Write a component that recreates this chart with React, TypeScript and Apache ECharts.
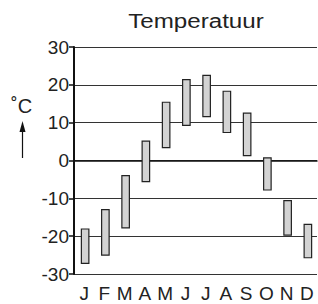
import React, { useEffect, useRef } from "react";
import * as echarts from "echarts";

const months = ["J", "F", "M", "A", "M", "J", "J", "A", "S", "O", "N", "D"];
const lows = [-27.2, -25, -17.8, -5.6, 3.4, 9.3, 11.6, 7.4, 1.3, -7.8, -19.7, -25.7];
const highs = [-18.1, -13, -4, 5.1, 15.4, 21.4, 22.5, 18.3, 12.5, 0.7, -10.6, -16.9];
const yTicks = [-30, -20, -10, 0, 10, 20, 30];

const FONT = "'Liberation Sans', Arial, Helvetica, sans-serif";

export default function App() {
  const ref = useRef<HTMLDivElement>(null);
  useEffect(() => {
    if (!ref.current) return;
    const chart = echarts.init(ref.current, null, { renderer: "svg" });
    const data = months.map((m, i) => [i, lows[i], highs[i]]);
    chart.setOption({
      animation: false,
      backgroundColor: "#ffffff",
      grid: { left: 74, right: 1, top: 47, bottom: 30, containLabel: false },
      graphic: [
        {
          type: "text",
          x: 196,
          y: 21,
          scaleX: 1.15,
          style: {
            text: "Temperatuur",
            font: `21px ${FONT}`,
            fill: "#222",
            align: "center",
            verticalAlign: "middle",
          },
        },
        {
          type: "text",
          left: 11,
          top: 96,
          style: { text: "˚C", font: `20px ${FONT}`, fill: "#222" },
        },
        {
          type: "line",
          shape: { x1: 22.5, y1: 158, x2: 22.5, y2: 128 },
          style: { stroke: "#111", lineWidth: 1.2 },
        },
        {
          type: "polygon",
          shape: { points: [[22.5, 121], [19.5, 132], [25.5, 132]] },
          style: { fill: "#111" },
        },
      ],
      xAxis: {
        type: "category",
        data: months,
        boundaryGap: true,
        axisLine: { show: true, lineStyle: { color: "#111", width: 1.5 } },
        axisTick: { show: false },
        axisLabel: { fontSize: 19, color: "#222", fontFamily: FONT, margin: 10, interval: 0 },
        splitLine: { show: false },
      },
      yAxis: {
        type: "value",
        min: yTicks[0],
        max: yTicks[yTicks.length - 1],
        interval: 10,
        axisLine: { show: true, lineStyle: { color: "#111", width: 2 } },
        axisTick: { show: true, length: 5, inside: false, lineStyle: { color: "#111", width: 1.5 } },
        axisLabel: { fontSize: 19, color: "#222", fontFamily: FONT, margin: 5 },
        splitLine: { show: true, lineStyle: { color: "#333", width: 1 } },
      },
      series: [
        {
          type: "custom",
          data,
          encode: { x: 0, y: [1, 2] },
          renderItem: (params: any, api: any) => {
            const x = api.value(0);
            const lo = api.coord([x, api.value(1)]);
            const hi = api.coord([x, api.value(2)]);
            const w = 7.5;
            return {
              type: "rect",
              shape: { x: lo[0] - w / 2 + 1, y: hi[1], width: w, height: lo[1] - hi[1] },
              style: { fill: "#d3d3d3", stroke: "#222", lineWidth: 1.2 },
            };
          },
        },
      ],
    });
    return () => chart.dispose();
  }, []);
  return (
    <div
      ref={ref}
      style={{ position: "absolute", left: 0, top: 0, width: 318, height: 304 }}
    />
  );
}
